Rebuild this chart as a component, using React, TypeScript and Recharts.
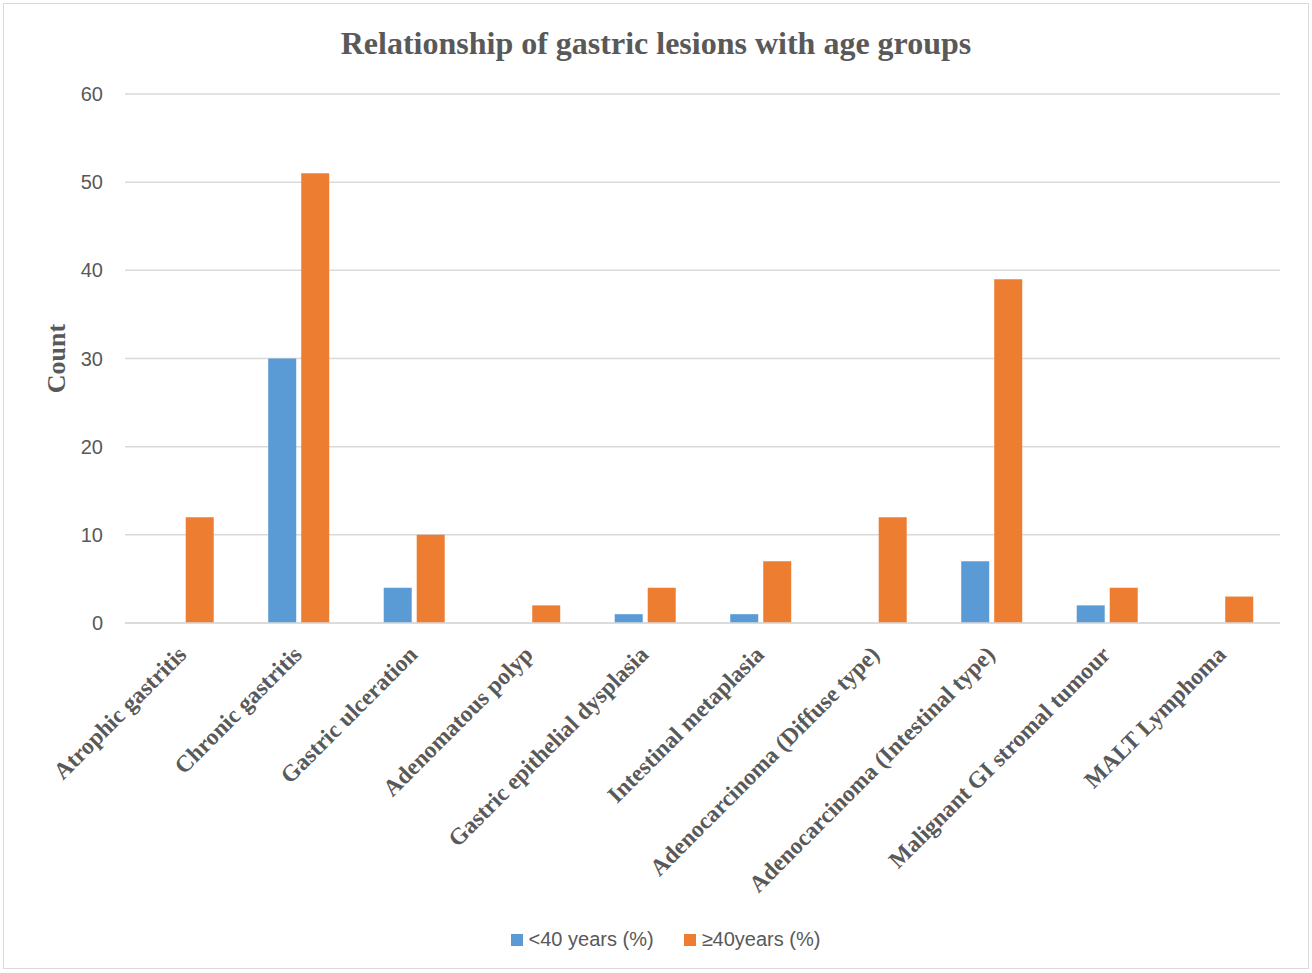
import { BarChart, Bar, XAxis, YAxis, CartesianGrid, Legend } from 'recharts';

const categories = [
  'Atrophic gastritis',
  'Chronic gastritis',
  'Gastric ulceration',
  'Adenomatous polyp',
  'Gastric epithelial dysplasia',
  'Intestinal metaplasia',
  'Adenocarcinoma (Diffuse type)',
  'Adenocarcinoma (Intestinal type)',
  'Malignant GI stromal tumour',
  'MALT Lymphoma',
];
const under40 = [0, 30, 4, 0, 1, 1, 0, 7, 2, 0];
const over40 = [12, 51, 10, 2, 4, 7, 12, 39, 4, 3];
const yTicks = [0, 10, 20, 30, 40, 50, 60];

const data = categories.map((name, i) => ({ name, under40: under40[i], over40: over40[i] }));

const GREY = '#595959';

function CategoryTick({ x, y, payload }: any) {
  return (
    <g transform={`translate(${x + 5},${y + 25}) rotate(-45)`}>
      <text
        x={0}
        y={0}
        textAnchor="end"
        fill={GREY}
        fontFamily="'Liberation Serif', serif"
        fontWeight="bold"
        fontSize={23.5}
      >
        {payload.value}
      </text>
    </g>
  );
}

function LegendContent({ payload }: any) {
  return (
    <div style={{ height: 28, position: 'relative' }}>
      <div style={{ display: 'flex', justifyContent: 'center', gap: 30, alignItems: 'center', position: 'relative', top: 5 }}>
        {(payload || []).map((p: any) => (
          <div key={p.value} style={{ display: 'flex', alignItems: 'center' }}>
            <span style={{ display: 'inline-block', width: 12, height: 12, background: p.color, marginRight: 6 }} />
            <span style={{ fontFamily: "'Liberation Sans', sans-serif", fontSize: 20, color: GREY }}>{p.value}</span>
          </div>
        ))}
      </div>
    </div>
  );
}

export default function App() {
  return (
    <div style={{ position: 'absolute', left: 0, top: 0, width: 1312, height: 973, background: '#fff' }}>
      <div
        style={{
          position: 'absolute',
          left: 3,
          top: 3,
          width: 1306,
          height: 966,
          border: '1px solid #d9d9d9',
          boxSizing: 'border-box',
        }}
      />
      <div
        style={{
          position: 'absolute',
          left: 0,
          top: 25,
          width: 1312,
          textAlign: 'center',
          fontFamily: "'Liberation Serif', serif",
          fontWeight: 'bold',
          fontSize: 32,
          color: GREY,
        }}
      >
        Relationship of gastric lesions with age groups
      </div>
      <div style={{ position: 'absolute', left: 0, top: 0 }}>
        <BarChart
          width={1312}
          height={973}
          data={data}
          margin={{ top: 94, right: 32, bottom: 22, left: 51 }}
          barCategoryGap="24%"
          barGap={5}
        >
          <CartesianGrid vertical={false} stroke="#d9d9d9" strokeWidth={1.5} />
          <XAxis
            dataKey="name"
            interval={0}
            height={300}
            tick={<CategoryTick />}
            tickLine={false}
            axisLine={{ stroke: '#d9d9d9', strokeWidth: 1.5 }}
          />
          <YAxis
            width={74}
            domain={[0, 60]}
            ticks={yTicks}
            tickLine={false}
            axisLine={false}
            tickMargin={16}
            tick={{ fill: GREY, fontSize: 20, fontFamily: "'Liberation Sans', sans-serif" }}
            label={{
              value: 'Count',
              angle: -90,
              position: 'insideLeft',
              style: {
                textAnchor: 'middle',
                fill: GREY,
                fontFamily: "'Liberation Serif', serif",
                fontWeight: 'bold',
                fontSize: 26,
              },
            }}
          />
          <Legend verticalAlign="bottom" align="center" content={<LegendContent />} />
          <Bar dataKey="under40" name="<40 years (%)" fill="#5b9bd5" isAnimationActive={false} />
          <Bar dataKey="over40" name="≥40years (%)" fill="#ed7d31" isAnimationActive={false} />
        </BarChart>
      </div>
    </div>
  );
}
